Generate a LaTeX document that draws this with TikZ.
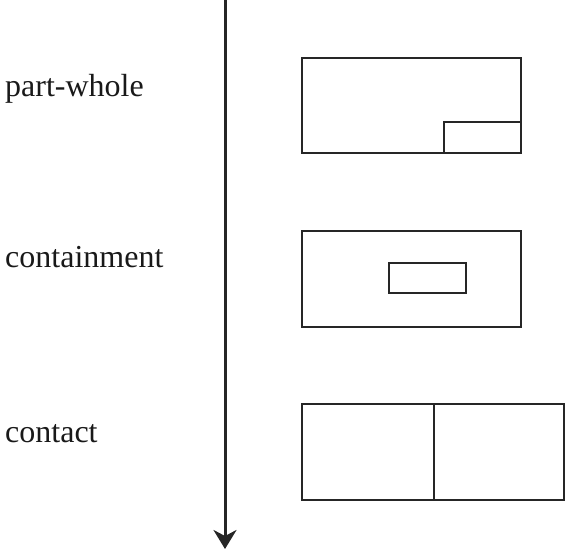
\documentclass[tikz,border=0pt]{standalone}
\usepackage{fontspec}
\setmainfont{Liberation Serif}
\usetikzlibrary{arrows.meta}

\begin{document}
\begin{tikzpicture}[x=1pt,y=-1pt,
    relation/.style={anchor=base west,inner sep=0pt,font=\fontsize{32}{36}\selectfont,text=black!90},
    region/.style={draw=black!85,line width=2pt}]
  \useasboundingbox (0,0) rectangle (566,550);

  \pgfmathsetmacro{\xl}{302} % left edge of the boxes
  \pgfmathsetmacro{\xr}{521} % right edge of the boxes

  % time axis
  \coordinate (top) at (225,0);
  \coordinate (bottom) at (225,549);
  \draw[line width=3pt,black!85,-{Stealth[length=19pt,width=23pt,inset=6pt]}] (top) -- (bottom);

  % labels
  \node[relation] (partwhole) at (5,96) {part-whole};
  \node[relation] (containment) at (5,267) {containment};
  \node[relation] (contact) at (5,442) {contact};

  % part-whole
  \draw[region] (\xl,58) rectangle (\xr,153);
  \draw[region] (444,153) |- (\xr,122);

  % containment
  \draw[region] (\xl,231) rectangle (\xr,327);
  \draw[region] (389,263) rectangle (466,293);

  % contact
  \draw[region] (\xl,404) rectangle (564,500);
  \draw[region] (434,404) -- (434,500);
\end{tikzpicture}
\end{document}
